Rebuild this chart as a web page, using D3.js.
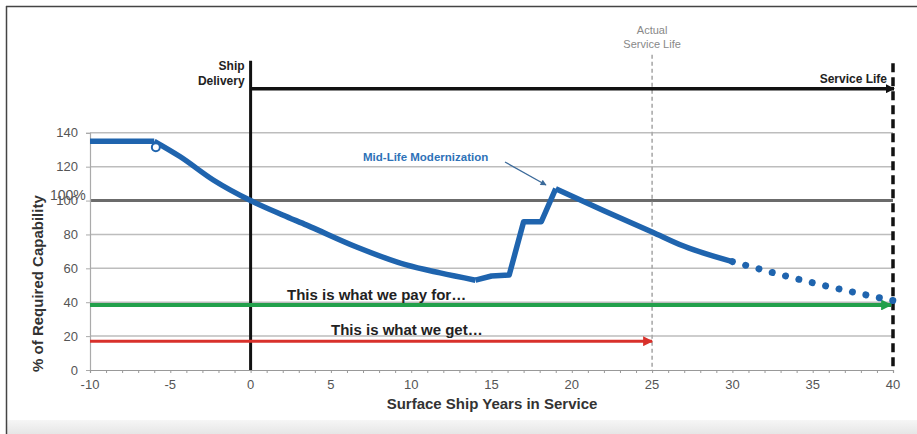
<!DOCTYPE html>
<html>
<head>
<meta charset="utf-8">
<script src="https://cdn.jsdelivr.net/npm/d3@7"></script>
<style>
  body { margin: 0; background: #fff; }
  svg { display: block; font-family: "Liberation Sans", Arial, sans-serif; }
  .grid { stroke: #bdbdbd; stroke-width: 1.5; }
  .tick-label { fill: #555; font-size: 13px; }
  .axis-title { fill: #333; font-size: 15px; font-weight: bold; }
  .note { fill: #222; font-size: 15px; font-weight: bold; }
</style>
</head>
<body>
<svg id="chart" width="917" height="434"></svg>
<script>
// ---------------------------------------------------------------------------
// Data
// ---------------------------------------------------------------------------

const xTicks = [-10, -5, 0, 5, 10, 15, 20, 25, 30, 35, 40];
const yTicks = [0, 20, 40, 60, 80, 100, 120, 140];

// Capability curve, solid part [year, %], in pieces: smooth / sharp / smooth
const capabilityPre     = [[-10, 135], [-6, 135]];
const capabilityDecline = [
  [-6, 135], [-4.4, 126], [-2.3, 112], [0, 100], [2, 91.5], [3.5, 85.5],
  [6.6, 72.6], [9.7, 62], [11.8, 57.3], [14, 53]
];
const capabilityUpgrade = [[14, 53], [15, 55.5], [16.1, 56], [17, 87.5], [18.1, 87.5], [19, 107]];
const capabilityAfter   = [[19, 107], [22, 94], [25, 81.5], [27, 73], [30, 64]];
// Projected part (dotted)
const capabilityDotted  = [[30, 64], [32.5, 57.5], [35, 51.5], [37.5, 46], [40, 41]];

// Small hollow marker at the knee of the curve
const kneeMarker = [-5.9, 131.5];

const payFor = { value: 38.4, from: -10, to: 40, label: 'This is what we pay for\u2026' };
const weGet  = { value: 17,   from: -10, to: 25, label: 'This is what we get\u2026' };

const shipDelivery   = { year: 0,  top: 182.5, label: ['Ship', 'Delivery'] };
const serviceLife    = { year: 40, top: 181, level: 166, label: 'Service Life' };
const actualLife     = { year: 25, top: 186, label: ['Actual', 'Service Life'] };
const requiredLevel  = 100;

// ---------------------------------------------------------------------------
// Layout
// ---------------------------------------------------------------------------

const svg = d3.select('#chart');
const x = d3.scaleLinear().domain([-10, 40]).range([90, 893]);
const y = d3.scaleLinear().domain([0, 140]).range([370, 132.8]);

const BLUE = '#1f64ae';

const defs = svg.append('defs');
function arrowMarker(id, color, w, h) {
  defs.append('marker')
    .attr('id', id)
    .attr('viewBox', '0 0 10 10')
    .attr('refX', 9).attr('refY', 5)
    .attr('markerUnits', 'userSpaceOnUse')
    .attr('markerWidth', w).attr('markerHeight', h)
    .attr('orient', 'auto')
    .append('path')
    .attr('d', 'M0,0L10,5L0,10z')
    .attr('fill', color);
}
arrowMarker('arr-green', '#22a04b', 16, 11);
arrowMarker('arr-red', '#d8312b', 16, 10);
arrowMarker('arr-black', '#111', 9, 9);
arrowMarker('arr-note', '#3b6a9a', 7, 6);

// Frame (top and left edges) and bottom band
const band = defs.append('linearGradient').attr('id', 'band').attr('x1', 0).attr('y1', 0).attr('x2', 0).attr('y2', 1);
band.append('stop').attr('offset', 0).attr('stop-color', '#f6f6f6');
band.append('stop').attr('offset', 1).attr('stop-color', '#e6e6e6');
svg.append('rect').attr('x', 6).attr('y', 420).attr('width', 911).attr('height', 14).attr('fill', 'url(#band)');
svg.append('line').attr('x1', 6).attr('y1', 6.5).attr('x2', 917).attr('y2', 6.5)
  .attr('stroke', '#444').attr('stroke-width', 1.5);
svg.append('line').attr('x1', 6.5).attr('y1', 6).attr('x2', 6.5).attr('y2', 434)
  .attr('stroke', '#444').attr('stroke-width', 1.5);

// ---------------------------------------------------------------------------
// Grid and axes
// ---------------------------------------------------------------------------

svg.append('g').selectAll('line')
  .data(yTicks.filter(v => v !== 0 && v !== requiredLevel))
  .join('line')
  .classed('grid', true)
  .attr('x1', x(-10)).attr('x2', x(40))
  .attr('y1', d => y(d)).attr('y2', d => y(d));

// 100 % line
svg.append('line')
  .attr('x1', x(-10)).attr('x2', x(40))
  .attr('y1', y(requiredLevel)).attr('y2', y(requiredLevel))
  .attr('stroke', '#6b6b6b').attr('stroke-width', 3);

// Y axis
const yAxis = svg.append('g')
  .attr('transform', `translate(${x(-10)},0)`)
  .call(d3.axisLeft(y).tickValues(yTicks).tickSize(4).tickPadding(8));
yAxis.select('.domain').attr('stroke', '#aaa').attr('stroke-width', 1.2);
yAxis.selectAll('.tick line').attr('stroke', '#aaa');
yAxis.selectAll('.tick text').attr('class', 'tick-label').attr('font-family', null).attr('font-size', null);

// X axis, minor ticks every year
const xAxis = svg.append('g')
  .attr('transform', `translate(0,${y(0)})`)
  .call(d3.axisBottom(x).ticks(50).tickSize(3).tickFormat(() => ''));
xAxis.select('.domain').attr('stroke', '#999').attr('stroke-width', 1.2);
xAxis.selectAll('.tick line').attr('stroke', '#999');

svg.append('g').selectAll('text')
  .data(xTicks)
  .join('text')
  .attr('class', 'tick-label')
  .attr('x', d => x(d))
  .attr('y', y(0) + 19)
  .attr('text-anchor', 'middle')
  .text(d => d);

// "100%" label over the tick label
svg.append('text')
  .attr('x', 50).attr('y', y(requiredLevel) - 1)
  .attr('fill', '#555').attr('font-size', 14)
  .text('100%');

// Axis titles
svg.append('text').attr('class', 'axis-title')
  .attr('x', 492).attr('y', 409)
  .attr('text-anchor', 'middle')
  .text('Surface Ship Years in Service');

svg.append('text').attr('class', 'axis-title')
  .attr('transform', `translate(43,${y(51)}) rotate(-90)`)
  .attr('text-anchor', 'middle')
  .text('% of Required Capability');

// ---------------------------------------------------------------------------
// Reference lines and annotations
// ---------------------------------------------------------------------------

// Actual service life (gray dashed)
svg.append('line')
  .attr('x1', x(actualLife.year)).attr('x2', x(actualLife.year))
  .attr('y1', y(actualLife.top)).attr('y2', y(0))
  .attr('stroke', '#aaa').attr('stroke-width', 1.6).attr('stroke-dasharray', '4,3');
svg.append('text')
  .attr('x', x(actualLife.year)).attr('y', 34)
  .attr('text-anchor', 'middle').attr('fill', '#888').attr('font-size', 11)
  .selectAll('tspan').data(actualLife.label).join('tspan')
  .attr('x', x(actualLife.year)).attr('dy', (d, i) => i ? 13.5 : 0)
  .text(d => d);

// Ship delivery (solid black vertical)
svg.append('line')
  .attr('x1', x(shipDelivery.year)).attr('x2', x(shipDelivery.year))
  .attr('y1', y(shipDelivery.top)).attr('y2', y(0))
  .attr('stroke', '#111').attr('stroke-width', 3);
svg.append('text')
  .attr('text-anchor', 'end').attr('fill', '#222').attr('font-size', 12).attr('font-weight', 'bold')
  .selectAll('tspan').data(shipDelivery.label).join('tspan')
  .attr('x', x(shipDelivery.year) - 6).attr('y', (d, i) => 70 + i * 15)
  .text(d => d);

// Service life horizontal arrow
svg.append('line')
  .attr('x1', x(shipDelivery.year)).attr('x2', x(serviceLife.year) + 1)
  .attr('y1', y(serviceLife.level)).attr('y2', y(serviceLife.level))
  .attr('stroke', '#111').attr('stroke-width', 3.5)
  .attr('marker-end', 'url(#arr-black)');
svg.append('text')
  .attr('x', x(serviceLife.year) - 6).attr('y', 83)
  .attr('text-anchor', 'end').attr('fill', '#222').attr('font-size', 12).attr('font-weight', 'bold')
  .text(serviceLife.label);

// Service life dashed vertical
svg.append('line')
  .attr('x1', x(serviceLife.year)).attr('x2', x(serviceLife.year))
  .attr('y1', y(serviceLife.top)).attr('y2', y(0))
  .attr('stroke', '#111').attr('stroke-width', 3.5).attr('stroke-dasharray', '9,5');

// Pay-for and get arrows
svg.append('line')
  .attr('x1', x(payFor.from)).attr('x2', x(payFor.to) - 2)
  .attr('y1', y(payFor.value)).attr('y2', y(payFor.value))
  .attr('stroke', '#22a04b').attr('stroke-width', 4)
  .attr('marker-end', 'url(#arr-green)');
svg.append('text').attr('class', 'note')
  .attr('x', 287).attr('y', y(payFor.value) - 5)
  .text(payFor.label);

svg.append('line')
  .attr('x1', x(weGet.from)).attr('x2', x(weGet.to))
  .attr('y1', y(weGet.value)).attr('y2', y(weGet.value))
  .attr('stroke', '#d8312b').attr('stroke-width', 3)
  .attr('marker-end', 'url(#arr-red)');
svg.append('text').attr('class', 'note')
  .attr('x', 331).attr('y', y(weGet.value) - 6)
  .text(weGet.label);

// Mid-life modernization note
svg.append('text')
  .attr('x', 363).attr('y', 161)
  .attr('fill', '#2e72b8').attr('font-size', 11.5).attr('font-weight', 'bold')
  .text('Mid-Life Modernization');
svg.append('line')
  .attr('x1', 505).attr('y1', 162).attr('x2', 546).attr('y2', 185)
  .attr('stroke', '#3b6a9a').attr('stroke-width', 1.3)
  .attr('marker-end', 'url(#arr-note)');

// ---------------------------------------------------------------------------
// Capability curve
// ---------------------------------------------------------------------------

const smooth = d3.line().x(d => x(d[0])).y(d => y(d[1])).curve(d3.curveMonotoneX);
const sharp  = d3.line().x(d => x(d[0])).y(d => y(d[1]));

const curve = svg.append('g')
  .attr('fill', 'none').attr('stroke', BLUE).attr('stroke-width', 5.5)
  .attr('stroke-linejoin', 'round');
curve.append('path').attr('d', sharp(capabilityPre));
curve.append('path').attr('d', smooth(capabilityDecline));
curve.append('path').attr('d', sharp(capabilityUpgrade));
curve.append('path').attr('d', smooth(capabilityAfter));

// Dotted projection: 13 round dots, first at 30 years, last at 40
const dotted = svg.append('path')
  .attr('d', smooth(capabilityDotted))
  .attr('fill', 'none').attr('stroke', BLUE).attr('stroke-width', 7)
  .attr('stroke-linecap', 'round');
const dottedLen = dotted.node().getTotalLength();
dotted.attr('stroke-dasharray', `0.01,${dottedLen / 12 - 0.03}`);

svg.append('circle')
  .attr('cx', x(kneeMarker[0])).attr('cy', y(kneeMarker[1]))
  .attr('r', 4).attr('fill', '#fff').attr('stroke', BLUE).attr('stroke-width', 2);
</script>
</body>
</html>
